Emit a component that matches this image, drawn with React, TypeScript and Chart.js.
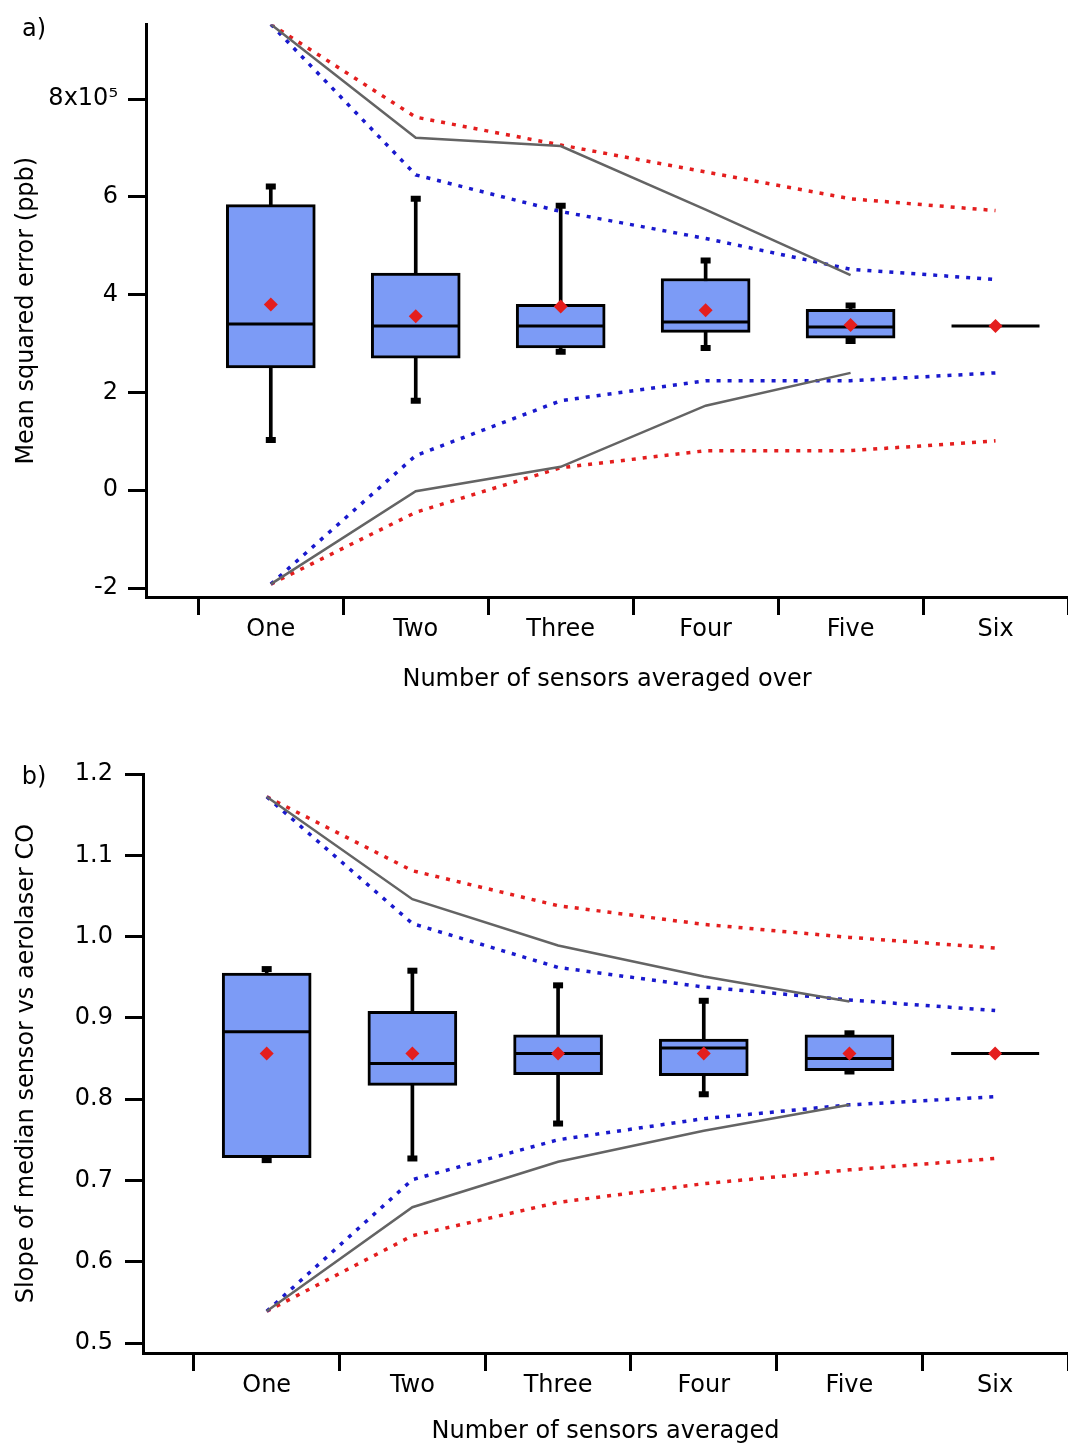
import React, { useEffect, useRef } from 'react';
import { Chart, registerables } from 'chart.js';

Chart.register(...registerables);

// ---------- shared ----------
const categories = ['One', 'Two', 'Three', 'Four', 'Five', 'Six'];

// ---------- panel a (values in units of 10^5 ppb) ----------
const aWhiskerLow = [1.03, 1.83, 2.83, 2.91, 3.05];
const aQ1 = [2.50, 2.70, 2.91, 3.23, 3.11];
const aMedian = [3.40, 3.36, 3.36, 3.44, 3.34, 3.36];
const aQ3 = [5.84, 4.44, 3.80, 4.33, 3.70];
const aWhiskerHigh = [6.21, 5.96, 5.82, 4.70, 3.78];
const aMean = [3.80, 3.56, 3.76, 3.68, 3.38, 3.36];
const aRedUpper = [9.53, 7.63, 7.06, 6.51, 5.96, 5.72];
const aBlueUpper = [9.53, 6.45, 5.70, 5.15, 4.52, 4.31];
const aGrayUpper = [9.53, 7.21, 7.04, 5.74, 4.40];
const aRedLower = [-1.92, -0.45, 0.46, 0.81, 0.81, 1.01];
const aBlueLower = [-1.92, 0.71, 1.83, 2.24, 2.24, 2.40];
const aGrayLower = [-1.92, -0.02, 0.48, 1.73, 2.40];
const aYTicks = [-2, 0, 2, 4, 6, 8];

// ---------- panel b ----------
const bWhiskerLow = [0.725, 0.727, 0.770, 0.806, 0.834];
const bQ1 = [0.728, 0.817, 0.830, 0.829, 0.835];
const bMedian = [0.883, 0.844, 0.856, 0.863, 0.850, 0.856];
const bQ3 = [0.955, 0.908, 0.879, 0.874, 0.879];
const bWhiskerHigh = [0.960, 0.958, 0.940, 0.921, 0.881];
const bMean = [0.856, 0.856, 0.856, 0.856, 0.856, 0.856];
const bRedUpper = [1.172, 1.081, 1.038, 1.015, 0.999, 0.986];
const bBlueUpper = [1.172, 1.016, 0.962, 0.938, 0.922, 0.909];
const bGrayUpper = [1.172, 1.046, 0.989, 0.951, 0.920];
const bRedLower = [0.539, 0.632, 0.673, 0.696, 0.713, 0.727];
const bBlueLower = [0.539, 0.701, 0.750, 0.776, 0.793, 0.803];
const bGrayLower = [0.539, 0.667, 0.723, 0.761, 0.793];
const bYTicks = [0.5, 0.6, 0.7, 0.8, 0.9, 1.0, 1.1, 1.2];

const FONT = 'DejaVu Sans';
const BOX_FILL = 'rgb(124,155,246)';
const RED = 'rgb(228,30,30)';
const BLUE = 'rgb(25,25,205)';
const GRAY = 'rgb(100,100,100)';

type Spec = {
  label: string;
  labelPos: [number, number];
  width: number;
  height: number;
  padTop: number;
  yAxisWidth: number;
  xAxisHeight: number;
  xMin: number;
  yMin: number;
  yMax: number;
  yTicks: number[];
  yFmt: (v: number) => string;
  yTitle: string;
  xTitle: string;
  xTitleBottom: number;
  yLabelPad: number;
  xLabelPad: number;
  wLow: number[];
  q1: number[];
  median: number[];
  q3: number[];
  wHigh: number[];
  mean: number[];
  redUp: number[];
  blueUp: number[];
  grayUp: number[];
  redLo: number[];
  blueLo: number[];
  grayLo: number[];
};

const pts = (arr: number[]) => arr.map((v, i) => ({ x: i + 1, y: v }));

function buildConfig(s: Spec): any {
  const boxData = s.q1.map((q, i) => ({ x: i + 1, y: [q, s.q3[i]] }));
  const whiskerData = s.wLow.map((w, i) => ({ x: i + 1, y: [w, s.wHigh[i]] }));
  const caps = [...pts(s.wLow), ...pts(s.wHigh)];
  const dotted = (data: number[], color: string, order: number) => ({
    type: 'line',
    data: pts(data),
    borderColor: color,
    borderWidth: 3.5,
    borderDash: [4, 7],
    borderCapStyle: 'butt',
    pointRadius: 0,
    tension: 0,
    fill: false,
    order,
  });
  const solid = (data: number[], order: number) => ({
    type: 'line',
    data: pts(data),
    borderColor: GRAY,
    borderWidth: 2.5,
    pointRadius: 0,
    tension: 0,
    fill: false,
    order,
  });
  const labelPlugin = {
    id: 'panelLabel',
    afterDraw(chart: any) {
      const ctx = chart.ctx;
      ctx.save();
      ctx.font = `24px "${FONT}"`;
      ctx.fillStyle = '#000';
      ctx.textAlign = 'center';
      ctx.textBaseline = 'middle';
      ctx.fillText(s.label, s.labelPos[0], s.labelPos[1]);
      ctx.restore();
    },
  };
  return {
    type: 'bar',
    data: {
      datasets: [
        {
          type: 'bar',
          data: whiskerData,
          barThickness: 3,
          backgroundColor: '#000',
          borderWidth: 0,
          grouped: false,
          order: 20,
        },
        {
          type: 'bar',
          data: boxData,
          barThickness: 89,
          backgroundColor: BOX_FILL,
          borderColor: '#000',
          borderWidth: 3,
          borderSkipped: false,
          grouped: false,
          order: 19,
        },
        {
          type: 'scatter',
          data: caps,
          pointStyle: 'line',
          pointRadius: 5,
          borderColor: '#000',
          borderWidth: 6,
          order: 18,
        },
        dotted(s.redUp, RED, 10),
        dotted(s.blueUp, BLUE, 9),
        solid(s.grayUp, 8),
        dotted(s.redLo, RED, 7),
        dotted(s.blueLo, BLUE, 6),
        solid(s.grayLo, 5),
        {
          type: 'scatter',
          data: pts(s.median),
          pointStyle: 'line',
          pointRadius: 44,
          borderColor: '#000',
          borderWidth: 3,
          order: 2,
        },
        {
          type: 'scatter',
          data: pts(s.mean),
          pointStyle: 'rectRot',
          pointRadius: 7,
          backgroundColor: RED,
          borderColor: RED,
          borderWidth: 0,
          order: 1,
        },
      ],
    },
    options: {
      responsive: false,
      animation: false,
      devicePixelRatio: 1,
      events: [],
      layout: { autoPadding: false, padding: { top: s.padTop, left: 0, right: 0, bottom: 0 } },
      plugins: { legend: { display: false }, tooltip: { enabled: false }, title: { display: false } },
      scales: {
        x: {
          type: 'linear',
          offset: false,
          min: s.xMin,
          max: 6.5,
          afterBuildTicks: (sc: any) => {
            sc.ticks = categories.map((_, i) => ({ value: i + 1 }));
          },
          afterFit: (sc: any) => {
            sc.height = s.xAxisHeight;
          },
          ticks: {
            autoSkip: false,
            maxRotation: 0,
            minRotation: 0,
            padding: s.xLabelPad,
            color: '#000',
            font: { family: FONT, size: 24 },
            callback: (v: any) => categories[Math.round(Number(v)) - 1] ?? '',
          },
          grid: {
            offset: true,
            drawOnChartArea: false,
            drawTicks: true,
            tickLength: 18,
            tickWidth: 3,
            tickColor: '#000',
          },
          border: { display: true, color: '#000', width: 3 },
          title: {
            display: true,
            text: s.xTitle,
            color: '#000',
            font: { family: FONT, size: 24 },
            padding: { top: 0, bottom: s.xTitleBottom },
          },
        },
        y: {
          type: 'linear',
          min: s.yMin,
          max: s.yMax,
          afterBuildTicks: (sc: any) => {
            sc.ticks = s.yTicks.map((v) => ({ value: v }));
          },
          afterFit: (sc: any) => {
            sc.width = s.yAxisWidth;
          },
          ticks: {
            padding: s.yLabelPad,
            color: '#000',
            font: { family: FONT, size: 24 },
            callback: (v: any) => s.yFmt(Number(v)),
          },
          grid: {
            drawOnChartArea: false,
            drawTicks: true,
            tickLength: 18,
            tickWidth: 3,
            tickColor: '#000',
          },
          border: { display: true, color: '#000', width: 3 },
          title: {
            display: true,
            text: s.yTitle,
            color: '#000',
            font: { family: FONT, size: 24 },
            padding: { top: 12, bottom: 0 },
          },
        },
      },
    },
    plugins: [labelPlugin],
  };
}

const specA: Spec = {
  label: 'a)',
  labelPos: [34, 30],
  width: 1068,
  height: 710,
  padTop: 22,
  yAxisWidth: 146,
  xAxisHeight: 113,
  xMin: 0.139,
  yMin: -2.183,
  yMax: 9.527,
  yTicks: aYTicks,
  yFmt: (v) => (v === 8 ? '8x10\u2075' : String(v)),
  yTitle: 'Mean squared error (ppb)',
  xTitle: 'Number of sensors averaged over',
  xTitleBottom: 16,
  yLabelPad: 10,
  xLabelPad: 0,
  wLow: aWhiskerLow,
  q1: aQ1,
  median: aMedian,
  q3: aQ3,
  wHigh: aWhiskerHigh,
  mean: aMean,
  redUp: aRedUpper,
  blueUp: aBlueUpper,
  grayUp: aGrayUpper,
  redLo: aRedLower,
  blueLo: aBlueLower,
  grayLo: aGrayLower,
};

const specB: Spec = {
  label: 'b)',
  labelPos: [34, 58],
  width: 1068,
  height: 727,
  padTop: 54,
  yAxisWidth: 143,
  xAxisHeight: 94,
  xMin: 0.151,
  yMin: 0.4877,
  yMax: 1.2,
  yTicks: bYTicks,
  yFmt: (v) => v.toFixed(1),
  yTitle: 'Slope of median sensor vs aerolaser CO',
  xTitle: 'Number of sensors averaged',
  xTitleBottom: 1,
  yLabelPad: 12,
  xLabelPad: 0,
  wLow: bWhiskerLow,
  q1: bQ1,
  median: bMedian,
  q3: bQ3,
  wHigh: bWhiskerHigh,
  mean: bMean,
  redUp: bRedUpper,
  blueUp: bBlueUpper,
  grayUp: bGrayUpper,
  redLo: bRedLower,
  blueLo: bBlueLower,
  grayLo: bGrayLower,
};

function Panel({ spec, top }: { spec: Spec; top: number }) {
  const ref = useRef<HTMLCanvasElement | null>(null);
  useEffect(() => {
    if (!ref.current) return;
    const chart = new Chart(ref.current, buildConfig(spec));
    return () => chart.destroy();
  }, [spec]);
  return (
    <canvas
      ref={ref}
      width={spec.width}
      height={spec.height}
      style={{ position: 'absolute', left: 0, top, width: spec.width, height: spec.height }}
    />
  );
}

export default function App() {
  return (
    <div
      style={{
        position: 'absolute',
        left: 0,
        top: 0,
        width: 1068,
        height: 1447,
        background: '#fff',
        overflow: 'hidden',
      }}
    >
      <Panel spec={specA} top={0} />
      <Panel spec={specB} top={720} />
    </div>
  );
}
